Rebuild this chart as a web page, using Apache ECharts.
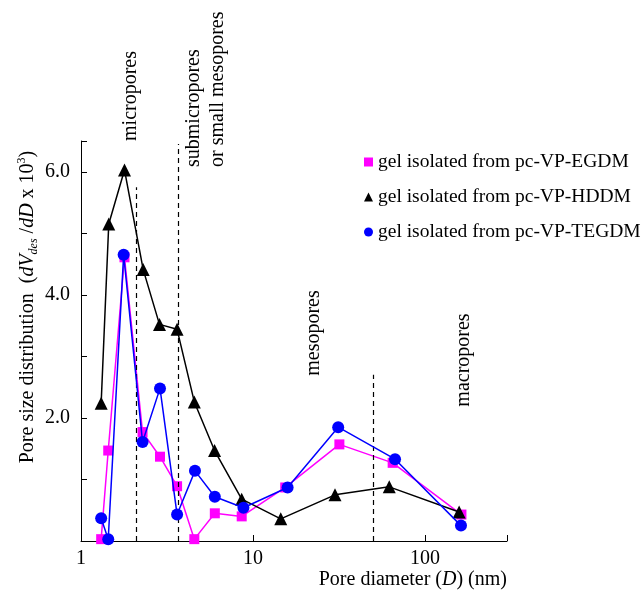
<!DOCTYPE html>
<html><head><meta charset="utf-8">
<script src="https://cdn.jsdelivr.net/npm/echarts@6/dist/echarts.min.js"></script>
<style>html,body{margin:0;padding:0;background:#fff}#c{width:644px;height:592px}</style>
</head><body><div id="c"></div>
<script>
// ---- data ----
const seriesNames = ['gel isolated from pc-VP-EGDM', 'gel isolated from pc-VP-HDDM', 'gel isolated from pc-VP-TEGDM'];

const egdmD = [1.31, 1.44, 1.79, 2.28, 2.88, 3.62, 4.56, 6.0, 8.6, 15.4, 31.8, 64.9, 163];
const egdmV = [0.03, 1.47, 4.61, 1.77, 1.37, 0.89, 0.03, 0.45, 0.40, 0.87, 1.57, 1.27, 0.43];

const hddmD = [1.31, 1.45, 1.79, 2.30, 2.86, 3.62, 4.56, 5.98, 8.6, 14.5, 30, 62, 158];
const hddmV = [2.24, 5.15, 6.03, 4.41, 3.52, 3.44, 2.26, 1.47, 0.68, 0.36, 0.75, 0.88, 0.47];

const tegdmD = [1.31, 1.44, 1.77, 2.28, 2.88, 3.62, 4.6, 6.0, 8.8, 15.9, 31.3, 67, 162];
const tegdmV = [0.37, 0.03, 4.65, 1.61, 2.48, 0.43, 1.14, 0.72, 0.54, 0.87, 1.85, 1.33, 0.25];

const xTickLabels = [1, 10, 100];
const yTickLabels = [2, 4, 6];

const boundaryD = [2.1, 3.7, 50];
const boundaryTop = [5.75, 6.45, 2.7];

const regionLabels = ['micropores', 'submicropores', 'or small mesopores', 'mesopores', 'macropores'];
// --------------------------------------

const FONT = 'Liberation Serif';
const colors = ['#ff00ff', '#000000', '#0000ff'];
const symbols = ['rect', 'triangle', 'circle'];
const symSizes = [10, 13, 12];

function pairs(xs, ys) { return xs.map((x, i) => [x, ys[i]]); }
const allData = [pairs(egdmD, egdmV), pairs(hddmD, hddmV), pairs(tegdmD, tegdmV)];

const series = allData.map((d, i) => ({
  name: seriesNames[i],
  type: 'line',
  data: d,
  symbol: symbols[i],
  symbolSize: symSizes[i],
  showAllSymbol: true,
  lineStyle: { color: colors[i], width: 1.5 },
  itemStyle: { color: colors[i] },
  z: 3 + i,
  animation: false
}));

series.push({
  type: 'line',
  data: [],
  silent: true,
  animation: false,
  markLine: {
    symbol: 'none',
    silent: true,
    label: { show: false },
    lineStyle: { color: '#000', type: [5, 4], width: 1.2 },
    data: boundaryD.map((d, i) => [{ coord: [d, 0] }, { coord: [d, boundaryTop[i]] }])
  }
});

function rot(text, x, y, align) {
  return {
    type: 'text', x: x, y: y, rotation: Math.PI / 2,
    style: { text: text, x: 0, y: 0, align: align || 'center', verticalAlign: 'middle',
      font: '20px "' + FONT + '"', fill: '#000' }
  };
}

const chart = echarts.init(document.getElementById('c'), null, { renderer: 'canvas' });
chart.setOption({
  backgroundColor: '#fff',
  animation: false,
  grid: { left: 81, right: 137, top: 141, bottom: 51, containLabel: false },
  legend: {
    orient: 'vertical', left: 359, top: 146,
    itemWidth: 9, itemHeight: 9, itemGap: 13,
    textStyle: { fontFamily: FONT, fontSize: 19.5, color: '#000', lineHeight: 22 },
    data: seriesNames.map((n, i) => ({ name: n, icon: symbols[i] })),
    selectedMode: false
  },
  xAxis: {
    type: 'log', logBase: 10, min: 1, max: 300,
    axisLine: { show: true, lineStyle: { color: '#000', width: 1 } },
    axisTick: { show: true, inside: true, length: 6, lineStyle: { color: '#000' } },
    splitLine: { show: false },
    axisLabel: {
      fontFamily: FONT, fontSize: 20, color: '#000', margin: 8,
      formatter: v => xTickLabels.some(t => Math.abs(t - v) < 1e-6) ? String(Math.round(v)) : ''
    }
  },
  yAxis: {
    type: 'value', min: 0, max: 6.5, interval: 1,
    axisLine: { show: true, lineStyle: { color: '#000', width: 1 } },
    axisTick: { show: true, inside: true, length: 6, lineStyle: { color: '#000' } },
    splitLine: { show: false },
    axisLabel: {
      fontFamily: FONT, fontSize: 20, color: '#000', margin: 11,
      formatter: v => yTickLabels.includes(v) ? v.toFixed(1) : ''
    }
  },
  series: series,
  graphic: [
    rot(regionLabels[0], 131, 96),
    rot(regionLabels[1], 194, 167, 'left'),
    rot(regionLabels[2], 218, 167, 'left'),
    rot(regionLabels[3], 314, 333),
    rot(regionLabels[4], 464, 360),
    {
      type: 'text', x: 28, y: 307, rotation: Math.PI / 2,
      style: {
        x: 0, y: 0, align: 'center', verticalAlign: 'middle',
        text: '{a|Pore size distribution  (}{i|dV}{s|des}{a| /}{i|dD}{a| x 10}{p|3}{a|)}',
        rich: {
          a: { fontFamily: FONT, fontSize: 20, fill: '#000' },
          i: { fontFamily: FONT, fontSize: 20, fontStyle: 'italic', fill: '#000' },
          s: { fontFamily: FONT, fontSize: 12, fontStyle: 'italic', fill: '#000', padding: [12, 0, 0, 0] },
          p: { fontFamily: FONT, fontSize: 12, fill: '#000', padding: [0, 0, 12, 0] }
        }
      }
    },
    {
      type: 'text', x: 507, y: 580,
      style: {
        x: 0, y: 0, align: 'right', verticalAlign: 'middle',
        text: '{a|Pore diameter (}{i|D}{a|) (nm)}',
        rich: {
          a: { fontFamily: FONT, fontSize: 20, fill: '#000' },
          i: { fontFamily: FONT, fontSize: 20, fontStyle: 'italic', fill: '#000' }
        }
      }
    }
  ]
});
</script></body></html>
